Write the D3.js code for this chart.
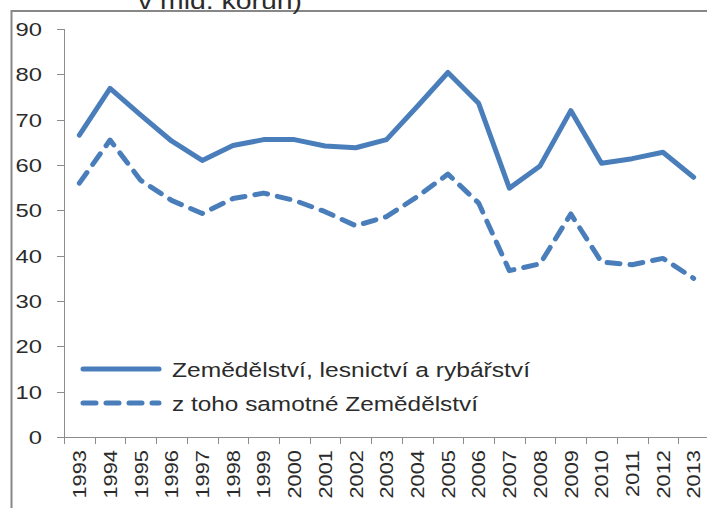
<!DOCTYPE html>
<html>
<head>
<meta charset="utf-8">
<script src="https://cdn.jsdelivr.net/npm/d3@7"></script>
<style>
  html, body { margin: 0; padding: 0; background: #fff; }
  svg { display: block; }
  text { font-family: "Liberation Sans", Arial, sans-serif; fill: #2b2b2b; }
</style>
</head>
<body>
<svg id="chart" width="707" height="508"></svg>
<script>
const years = ["1993","1994","1995","1996","1997","1998","1999","2000","2001","2002","2003","2004","2005","2006","2007","2008","2009","2010","2011","2012","2013"];
const totalValues = [66.6, 76.9, 71.0, 65.3, 61.0, 64.3, 65.6, 65.6, 64.2, 63.8, 65.6, 72.9, 80.4, 73.6, 54.9, 59.8, 72.0, 60.4, 61.4, 62.8, 57.3];
const agriValues = [56.0, 65.5, 56.6, 52.2, 49.3, 52.6, 53.8, 52.2, 49.7, 46.6, 48.6, 53.0, 58.0, 51.6, 36.7, 38.2, 49.2, 38.6, 38.0, 39.4, 35.0];
const yTicks = [0, 10, 20, 30, 40, 50, 60, 70, 80, 90];
const seriesNames = ["Zemědělství, lesnictví a rybářství", "z toho samotné Zemědělství"];
const titleText = "v mld. korun)";

const svg = d3.select("#chart");
const blue = "#4a7ebb";
const axisColor = "#8c8c8c";

// outer frame
svg.append("rect").attr("x", 11.5).attr("y", 11).attr("width", 800).attr("height", 600)
  .attr("fill", "none").attr("stroke", "#878787").attr("stroke-width", 2);

// partially visible title (cut at the top edge, as in the reference)
svg.append("text").attr("x", 138).attr("y", 8.5)
  .attr("font-size", 24).attr("textLength", 164).attr("lengthAdjust", "spacingAndGlyphs")
  .text(titleText);

const x = d3.scaleBand().domain(years).range([64, 709]).padding(0);
const y = d3.scaleLinear().domain([0, 90]).range([437, 29]);

// y axis
const yAxis = svg.append("g").attr("transform", "translate(64,0)");
yAxis.append("line").attr("x1", 0.5).attr("x2", 0.5).attr("y1", y(90)).attr("y2", y(0))
  .attr("stroke", axisColor).attr("stroke-width", 1);
yAxis.selectAll("line.tk").data(yTicks).join("line").attr("class", "tk")
  .attr("x1", -7).attr("x2", 0.5)
  .attr("y1", d => Math.round(y(d)) + 0.5).attr("y2", d => Math.round(y(d)) + 0.5)
  .attr("stroke", axisColor).attr("stroke-width", 1);
yAxis.selectAll("text").data(yTicks).join("text")
  .attr("transform", d => `translate(-22,${y(d)}) scale(1.25,1)`)
  .attr("text-anchor", "end").attr("dy", "0.36em").attr("font-size", 19)
  .text(d => d);

// x axis
const xAxis = svg.append("g");
xAxis.append("line").attr("x1", 64).attr("x2", 707).attr("y1", 437.5).attr("y2", 437.5)
  .attr("stroke", axisColor).attr("stroke-width", 1);
const bounds = years.map(d => x(d)).concat([x(years[years.length - 1]) + x.bandwidth()]);
xAxis.selectAll("line.tk").data(bounds).join("line").attr("class", "tk")
  .attr("x1", d => Math.round(d) + 0.5).attr("x2", d => Math.round(d) + 0.5)
  .attr("y1", 437).attr("y2", 444)
  .attr("stroke", axisColor).attr("stroke-width", 1);
xAxis.selectAll("text").data(years).join("text")
  .attr("transform", d => `translate(${x(d) + x.bandwidth() / 2},450) rotate(-90) scale(1.15,1)`)
  .attr("text-anchor", "end").attr("dy", "0.36em").attr("font-size", 19)
  .text(d => d);

// lines
const line = d3.line().x((d, i) => x(years[i]) + x.bandwidth() / 2).y(d => y(d));
svg.append("path").datum(totalValues).attr("d", line)
  .attr("fill", "none").attr("stroke", blue).attr("stroke-width", 5)
  .attr("stroke-linejoin", "round").attr("stroke-linecap", "round");
svg.append("path").datum(agriValues).attr("d", line)
  .attr("fill", "none").attr("stroke", blue).attr("stroke-width", 5)
  .attr("stroke-linejoin", "round").attr("stroke-linecap", "round")
  .attr("stroke-dasharray", "13,10");

// legend
const legend = svg.append("g");
const legY = [369, 403];
const legW = [358, 306];
legend.selectAll("line").data(seriesNames).join("line")
  .attr("x1", 83).attr("x2", 159).attr("y1", (d, i) => legY[i]).attr("y2", (d, i) => legY[i])
  .attr("stroke", blue).attr("stroke-width", 5).attr("stroke-linecap", "round")
  .attr("stroke-dasharray", (d, i) => i === 1 ? "13,10" : null);
legend.selectAll("text").data(seriesNames).join("text")
  .attr("x", 172).attr("y", (d, i) => legY[i] + 7.5)
  .attr("font-size", 20.5).attr("textLength", (d, i) => legW[i]).attr("lengthAdjust", "spacingAndGlyphs")
  .text(d => d);
</script>
</body>
</html>
